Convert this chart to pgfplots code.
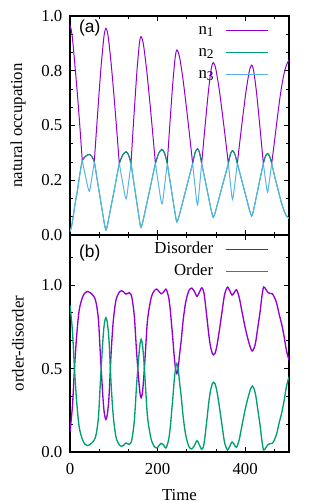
\documentclass[border=0pt]{standalone}
\usepackage{fontspec}
\setmainfont{Liberation Serif}
\newfontfamily\sansf{Liberation Sans}
\usepackage{pgfplots}
\pgfplotsset{compat=1.18}
\definecolor{cA}{HTML}{9400D3}
\definecolor{cB}{HTML}{009E73}
\definecolor{cC}{HTML}{56B4E9}
\pgfplotsset{
  myaxis/.style={
    scale only axis, width=164.25pt,
    xmin=0, xmax=500,
    axis line style={line width=1.3pt},
    tick style={black, line width=0.7pt},
    major tick length=3.75pt, minor tick length=2pt,
    xtick={0,200,400},
    minor xtick={66.667,133.333,266.667,333.333,466.667},
    /pgf/number format/assume math mode=true,
    yticklabel style={xshift=-2.2pt},
    xticklabel style={yshift=-5pt},
    legend cell align=right,
    legend plot pos=right,
    unbounded coords=jump,
    every axis x label/.style={at={(axis description cs:0.5,-0.198)}, anchor=center},
  }
}
\begin{document}
\begin{tikzpicture}[font=\fontsize{12.6}{15}\selectfont]
\useasboundingbox (-52.5pt,-39pt) rectangle (178.5pt,339pt);
% ---------------- top panel ----------------
\begin{axis}[myaxis, at={(0,162.75pt)}, anchor=south west, height=164.25pt,
  ymin=0, ymax=1, ytick={0,0.25,0.5,0.75,1}, yticklabels={0.0,0.2,0.5,0.8,1.0},
  minor ytick={0.0833,0.1667,0.3333,0.4167,0.5833,0.6667,0.8333,0.9167},
  xticklabels={},
  every axis y label/.style={at={(axis description cs:-0.2375,0.5)}, rotate=90, anchor=center},
  ylabel={natural occupation},
  legend style={at={(1,1)}, anchor=north east, xshift=-15pt, yshift=-5.5pt,
    draw=none, fill=none, inner sep=0pt, outer sep=0pt, column sep=8.8pt, row sep=5.5pt,
    nodes={inner sep=0pt, text height=8.5pt, text depth=2.5pt}},
  legend image code/.code={\draw[#1] (0pt,0pt) -- (32pt,0pt);},
]
\addplot[cA, line width=0.75pt, smooth] coordinates {
(0,0.960) (3,0.935) (6,0.890) (11,0.780) (17,0.640) (22,0.510) (28,0.340)
(28,nan)
(28,0.340) (36,0.360) (44,0.368) (49.75,0.359) (55.5,0.335)
(55.5,nan)
(55.5,0.335) (60.8,0.490) (66.1,0.640) (71.4,0.780) (76.7,0.892) (79.35,0.929) (82,0.944) (85.1,0.929) (88.1,0.892) (94.2,0.777) (100.4,0.636) (106.5,0.484) (112.6,0.327)
(112.6,nan)
(112.6,0.327) (120.3,0.365) (128,0.380) (133.65,0.365) (139.3,0.327)
(139.3,nan)
(139.3,0.327) (143.8,0.475) (148.4,0.617) (152.9,0.750) (157.5,0.857) (159.7,0.892) (162,0.906) (165.3,0.892) (168.6,0.857) (175.2,0.750) (181.8,0.617) (188.4,0.475) (195,0.327)
(195,nan)
(195,0.327) (202.5,0.373) (210,0.391) (216,0.373) (222,0.327)
(222,nan)
(222,0.327) (226.4,0.459) (230.8,0.586) (235.2,0.705) (239.6,0.801) (241.8,0.832) (244,0.845) (247.6,0.832) (251.2,0.801) (258.4,0.705) (265.6,0.586) (272.8,0.459) (280,0.327)
(280,nan)
(280,0.327) (285.5,0.375) (291,0.394) (295.8,0.375) (300.6,0.327)
(300.6,nan)
(300.6,0.327) (305.9,0.444) (311.2,0.557) (316.4,0.663) (321.7,0.748) (324.4,0.776) (327,0.787) (330.5,0.776) (333.9,0.748) (340.8,0.663) (347.7,0.557) (354.6,0.444) (361.5,0.327)
(361.5,nan)
(361.5,0.327) (366.25,0.369) (371,0.385) (376.5,0.369) (382,0.327)
(382,nan)
(382,0.327) (388.6,0.441) (395.2,0.552) (401.8,0.655) (408.4,0.738) (411.7,0.765) (415,0.776) (417.6,0.765) (420.3,0.738) (425.6,0.655) (430.8,0.552) (436.1,0.441) (441.4,0.327)
(441.4,nan)
(441.4,0.327) (446.2,0.359) (451,0.372) (455.75,0.359) (460.5,0.327)
(460.5,nan)
(460.5,0.327) (467,0.430) (474,0.545) (481,0.650) (488,0.730) (494,0.775) (500,0.800)
};
\addlegendentry{n\raisebox{-0.3ex}{\fontsize{10}{10}\selectfont 1}}
\addplot[cB, line width=0.75pt, smooth] coordinates {
(0,0.015) (3,0.035) (6,0.067) (11,0.135) (17,0.204) (22,0.272) (28,0.340) (36,0.360) (44,0.368) (49.75,0.359) (55.5,0.335) (60.8,0.269) (66.1,0.204) (71.4,0.138) (76.7,0.073) (79.35,0.042) (82,0.023) (85.1,0.041) (88.1,0.072) (94.2,0.135) (100.4,0.199) (106.5,0.263) (112.6,0.327) (120.3,0.365) (128,0.380) (133.65,0.365) (139.3,0.327) (143.8,0.266) (148.4,0.204) (152.9,0.143) (157.5,0.082) (159.7,0.053) (162,0.035) (165.3,0.053) (168.6,0.082) (175.2,0.143) (181.8,0.204) (188.4,0.266) (195,0.327) (202.5,0.373) (210,0.391) (216,0.373) (222,0.327) (226.4,0.271) (230.8,0.215) (235.2,0.159) (239.6,0.103) (241.8,0.076) (244,0.060) (247.6,0.076) (251.2,0.103) (258.4,0.159) (265.6,0.215) (272.8,0.271) (280,0.327) (285.5,0.375) (291,0.394) (295.8,0.375) (300.6,0.327) (305.9,0.275) (311.2,0.224) (316.4,0.172) (321.7,0.120) (324.4,0.096) (327,0.081) (330.5,0.096) (333.9,0.120) (340.8,0.172) (347.7,0.224) (354.6,0.275) (361.5,0.327) (366.25,0.369) (371,0.385) (376.5,0.369) (382,0.327) (388.6,0.277) (395.2,0.226) (401.8,0.176) (408.4,0.125) (411.7,0.101) (415,0.087) (417.6,0.101) (420.3,0.125) (425.6,0.176) (430.8,0.226) (436.1,0.277) (441.4,0.327) (446.2,0.359) (451,0.372) (455.75,0.359) (460.5,0.327) (467,0.270) (474,0.215) (481,0.160) (488,0.115) (494,0.088) (500,0.076)
};
\addlegendentry{n\raisebox{-0.3ex}{\fontsize{10}{10}\selectfont 2}}
\addplot[cC, line width=0.75pt, smooth] coordinates {
(0,0.015) (3,0.035) (6,0.067) (11,0.135) (17,0.204) (22,0.272) (28,0.340)
(28,nan)
(28,0.340) (36,0.263) (44,0.200) (49.75,0.261) (55.5,0.335)
(55.5,nan)
(55.5,0.335) (60.8,0.269) (66.1,0.204) (71.4,0.138) (76.7,0.073) (79.35,0.042) (82,0.023) (85.1,0.041) (88.1,0.072) (94.2,0.135) (100.4,0.199) (106.5,0.263) (112.6,0.327)
(112.6,nan)
(112.6,0.327) (120.3,0.238) (128,0.165) (133.65,0.238) (139.3,0.327)
(139.3,nan)
(139.3,0.327) (143.8,0.266) (148.4,0.204) (152.9,0.143) (157.5,0.082) (159.7,0.053) (162,0.035) (165.3,0.053) (168.6,0.082) (175.2,0.143) (181.8,0.204) (188.4,0.266) (195,0.327)
(195,nan)
(195,0.327) (202.5,0.225) (210,0.142) (216,0.225) (222,0.327)
(222,nan)
(222,0.327) (226.4,0.271) (230.8,0.215) (235.2,0.159) (239.6,0.103) (241.8,0.076) (244,0.060) (247.6,0.076) (251.2,0.103) (258.4,0.159) (265.6,0.215) (272.8,0.271) (280,0.327)
(280,nan)
(280,0.327) (285.5,0.222) (291,0.137) (295.8,0.222) (300.6,0.327)
(300.6,nan)
(300.6,0.327) (305.9,0.275) (311.2,0.224) (316.4,0.172) (321.7,0.120) (324.4,0.096) (327,0.081) (330.5,0.096) (333.9,0.120) (340.8,0.172) (347.7,0.224) (354.6,0.275) (361.5,0.327)
(361.5,nan)
(361.5,0.327) (366.25,0.237) (371,0.163) (376.5,0.237) (382,0.327)
(382,nan)
(382,0.327) (388.6,0.277) (395.2,0.226) (401.8,0.176) (408.4,0.125) (411.7,0.101) (415,0.087) (417.6,0.101) (420.3,0.125) (425.6,0.176) (430.8,0.226) (436.1,0.277) (441.4,0.327)
(441.4,nan)
(441.4,0.327) (446.2,0.255) (451,0.196) (455.75,0.255) (460.5,0.327)
(460.5,nan)
(460.5,0.327) (467,0.270) (474,0.215) (481,0.160) (488,0.115) (494,0.088) (500,0.076)
};
\addlegendentry{n\raisebox{-0.3ex}{\fontsize{10}{10}\selectfont 3}}
\node[anchor=west, font=\sansf\fontsize{13}{15}\selectfont] at (rel axis cs:0.02,0.945) {(a)};
\end{axis}
% ---------------- bottom panel ----------------
\begin{axis}[myaxis, at={(0,0)}, anchor=south west, height=162.75pt,
  ymin=0, ymax=1.3, ytick={0,0.5,1}, yticklabels={0.0,0.5,1.0},
  minor ytick={0.1667,0.3333,0.6667,0.8333,1.1667},
  xlabel={Time},
  every axis y label/.style={at={(axis description cs:-0.2375,0.5)}, rotate=90, anchor=center},
  ylabel={order-disorder},
  legend style={at={(1,1)}, anchor=north east, xshift=-15pt, yshift=-5.375pt,
    draw=none, fill=none, inner sep=0pt, outer sep=0pt, column sep=8.8pt, row sep=5.5pt,
    nodes={inner sep=0pt, text height=8.5pt, text depth=2.5pt}},
  legend image code/.code={\draw[#1] (0pt,0pt) -- (32pt,0pt);},
]
\addplot[cA, line width=1pt, smooth] coordinates {
(0,0.12) (3,0.20) (6,0.29) (10,0.49) (15,0.69) (21,0.85) (29,0.93) (35,0.955) (40,0.962) (46,0.955) (52,0.94) (56,0.925) (60,0.89) (65,0.79) (69,0.60) (74.6,0.35) (78,0.24) (82,0.195) (86,0.24) (89.5,0.35) (94,0.60) (99,0.79) (105,0.91) (112,0.955) (118,0.966) (123,0.958) (128,0.946) (135,0.955) (139,0.945) (142,0.915) (147,0.81) (152,0.60) (157,0.43) (160,0.35) (162.5,0.325) (165,0.35) (168,0.43) (172,0.59) (177,0.79) (185,0.92) (192,0.965) (198,0.976) (203,0.962) (208,0.948) (213,0.955) (219,0.976) (225,0.93) (229,0.85) (232,0.76) (235,0.67) (238,0.57) (241,0.50) (244,0.47) (247,0.50) (250,0.58) (254,0.67) (258,0.78) (263,0.88) (268,0.94) (273,0.975) (278,0.982) (284,0.962) (290,0.932) (295,0.955) (301,0.984) (306,0.95) (312,0.82) (317,0.70) (321,0.63) (325,0.59) (328,0.582) (331,0.59) (335,0.63) (340,0.71) (346,0.82) (352,0.93) (356,0.97) (360,0.988) (365,0.965) (370,0.94) (375,0.955) (380,0.972) (386,0.93) (392,0.85) (398,0.77) (403,0.71) (408,0.66) (412,0.625) (416,0.605) (420,0.62) (424,0.66) (429,0.75) (434,0.84) (438,0.93) (442,0.988) (447,0.975) (452,0.955) (457,0.95) (462,0.948) (467,0.925) (472,0.89) (478,0.82) (483,0.77) (489,0.69) (494,0.61) (500,0.55)
};
\addlegendentry{Disorder}
\addplot[cB, line width=1pt, smooth] coordinates {
(0,0.88) (3,0.80) (6,0.71) (10,0.51) (15,0.31) (21,0.15) (29,0.07) (35,0.045) (40,0.038) (46,0.045) (52,0.06) (56,0.075) (60,0.11) (65,0.21) (69,0.40) (74.6,0.65) (78,0.76) (82,0.805) (86,0.76) (89.5,0.65) (94,0.40) (99,0.21) (105,0.09) (112,0.045) (118,0.034) (123,0.042) (128,0.054) (135,0.045) (139,0.055) (142,0.085) (147,0.19) (152,0.40) (157,0.57) (160,0.65) (162.5,0.675) (165,0.65) (168,0.57) (172,0.41) (177,0.21) (185,0.08) (192,0.035) (198,0.024) (203,0.038) (208,0.052) (213,0.045) (219,0.024) (225,0.07) (229,0.15) (232,0.24) (235,0.33) (238,0.43) (241,0.50) (244,0.53) (247,0.50) (250,0.42) (254,0.33) (258,0.22) (263,0.12) (268,0.06) (273,0.025) (278,0.018) (284,0.038) (290,0.068) (295,0.045) (301,0.016) (306,0.05) (312,0.18) (317,0.30) (321,0.37) (325,0.41) (328,0.418) (331,0.41) (335,0.37) (340,0.29) (346,0.18) (352,0.07) (356,0.03) (360,0.012) (365,0.035) (370,0.06) (375,0.045) (380,0.028) (386,0.07) (392,0.15) (398,0.23) (403,0.29) (408,0.34) (412,0.375) (416,0.395) (420,0.38) (424,0.34) (429,0.25) (434,0.16) (438,0.07) (442,0.012) (447,0.025) (452,0.045) (457,0.05) (462,0.052) (467,0.075) (472,0.11) (478,0.18) (483,0.23) (489,0.31) (494,0.39) (500,0.45)
};
\addlegendentry{Order}
\node[anchor=west, font=\sansf\fontsize{13}{15}\selectfont] at (rel axis cs:0.02,0.919) {(b)};
\end{axis}
\end{tikzpicture}
\end{document}
